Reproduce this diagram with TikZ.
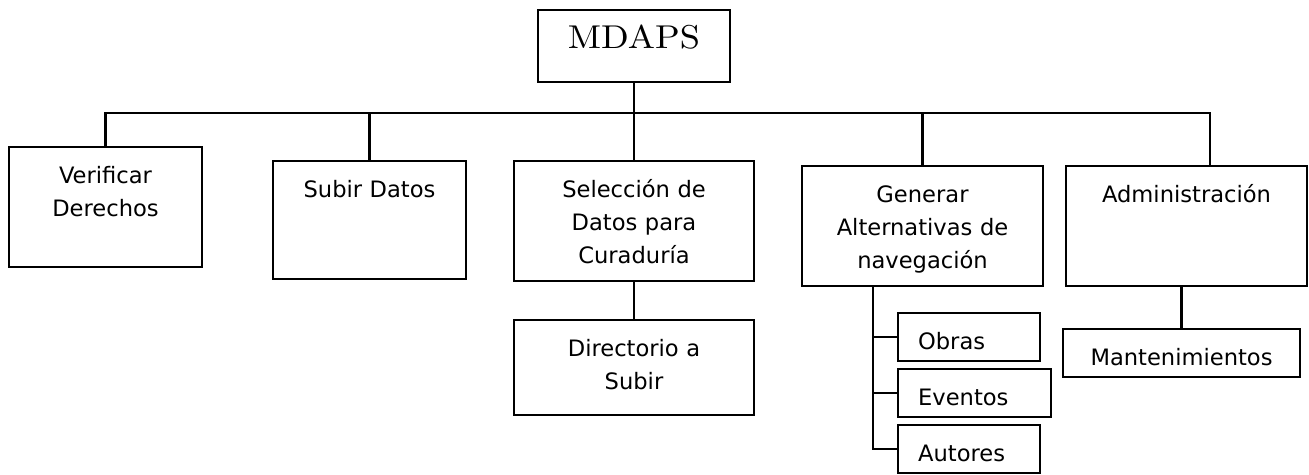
\documentclass[tikz,border=0pt]{standalone}
\usepackage{fontspec}
\newfontfamily\boxfont{DejaVu Sans}
\newfontfamily\rootfont[FakeStretch=1.1]{lmroman10-regular.otf}
\tikzset{
  box/.style={draw, line width=2.2pt, inner sep=0pt, anchor=north, align=center,
    text height=36pt, font=\boxfont\fontsize{22.6}{33}\selectfont},
  subbox/.style={box, anchor=north west, inner xsep=20pt, align=left, text depth=12pt},
  link/.style={line width=2.2pt},
}
\begin{document}
\begin{tikzpicture}[x=1pt,y=-1pt]
        \useasboundingbox (0,0) rectangle (1309,474);
        %% Root
        \node[box, text width=192pt, text height=38pt, text depth=34pt,
              font=\rootfont\fontsize{33}{40}\selectfont] (mdaps) at (634,9) {MDAPS};
        %% First level
        \node[box, text width=193pt, text depth=84pt] (verif)   at (105.5,146) {Verificar\\Derechos};
        \node[box, text width=193pt, text depth=82pt] (subir)   at (369.5,160) {Subir Datos};
        \node[box, text width=240pt, text depth=84pt] (selec)   at (634,160)   {Selección de\\Datos para\\Curaduría};
        \node[box, text width=241pt, text depth=84pt] (generar) at (922.5,165) {Generar\\Alternativas de\\navegación};
        \node[box, text width=241pt, text depth=84pt] (admin)   at (1186.5,165) {Administración};
        %% Second level
        \node[box, text width=240pt, text depth=59pt] (direct)  at (634,319)   {Directorio a\\Subir};
        \node[subbox, text width=102pt] (obras)   at (897,312) {Obras};
        \node[subbox, text width=113pt] (eventos) at (897,368) {Eventos};
        \node[subbox, text width=102pt] (autores) at (897,424) {Autores};
        \node[box, text width=237pt, text depth=12pt] (mant) at (1181.5,328) {Mantenimientos};
        %% Connectors
        \coordinate (bus) at (634,113);
        \draw[link] (mdaps.south) -- (bus);
        \draw[link] (verif.north) |- (bus) -| ([xshift=23.5pt]admin.north);
        \foreach \n in {subir,selec,generar}
            \draw[link] (\n.north) -- (\n.north |- bus);
        \draw[link] (selec.south) -- (direct.north);
        \coordinate (trunk) at ([xshift=-49.5pt]generar.south);
        \draw[link] (trunk) |- (autores.west);
        \foreach \n in {obras,eventos}
            \draw[link] (trunk |- \n.west) -- (\n.west);
        \draw[link] (mant.north) -- (mant.north |- admin.south);
\end{tikzpicture}
\end{document}
